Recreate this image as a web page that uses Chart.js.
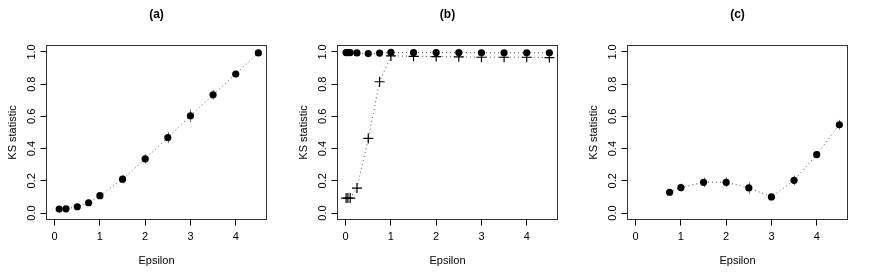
<!DOCTYPE html>
<html>
<head>
<meta charset="utf-8">
<script src="https://cdn.jsdelivr.net/npm/chart.js@4.4.1/dist/chart.umd.min.js"></script>
<style>
  body { margin: 0; background: #fff; width: 872px; height: 279px; position: relative; overflow: hidden; }
  canvas { position: absolute; top: 0; }
</style>
</head>
<body>
<canvas id="panelA" width="290" height="279" style="left:0px"></canvas>
<canvas id="panelB" width="290" height="279" style="left:291px"></canvas>
<canvas id="panelC" width="290" height="279" style="left:581px"></canvas>
<script>
// panel (a)
const epsA = [0.1, 0.25, 0.5, 0.75, 1, 1.5, 2, 2.5, 3, 3.5, 4, 4.5];
const ksA  = [0.025, 0.026, 0.039, 0.064, 0.108, 0.210, 0.336, 0.469, 0.604, 0.734, 0.863, 0.994];
const errA = [0.004, 0.004, 0.008, 0.02, 0.02, 0.025, 0.03, 0.035, 0.04, 0.03, 0.02, 0.01];

// panel (b): two series
const epsB     = [0.01, 0.05, 0.1, 0.25, 0.5, 0.75, 1, 1.5, 2, 2.5, 3, 3.5, 4, 4.5];
const ksBdot   = [0.996, 0.996, 0.996, 0.994, 0.990, 0.993, 0.997, 0.996, 0.996, 0.996, 0.995, 0.995, 0.995, 0.995];
const ksBcross = [0.093, 0.093, 0.093, 0.155, 0.463, 0.815, 0.975, 0.973, 0.971, 0.970, 0.967, 0.967, 0.967, 0.965];

// panel (c)
const epsC = [0.75, 1, 1.5, 2, 2.5, 3, 3.5, 4, 4.5];
const ksC  = [0.129, 0.158, 0.191, 0.191, 0.156, 0.100, 0.203, 0.363, 0.548];
const errC = [0.02, 0.025, 0.03, 0.03, 0.035, 0.01, 0.03, 0.02, 0.03];

const xTicks = [0, 1, 2, 3, 4];
const yTicks = [0, 0.2, 0.4, 0.6, 0.8, 1.0];
const yTickLabels = ['0.0', '0.2', '0.4', '0.6', '0.8', '1.0'];

const FONT = '"Liberation Sans", Arial, Helvetica, sans-serif';
Chart.defaults.font.family = FONT;
Chart.defaults.font.size = 11;
Chart.defaults.color = '#000';

const pts = (xs, ys) => xs.map((x, i) => ({ x: x, y: ys[i] }));

// R-style frame: box, rotated y labels, panel title, error bars
const rFrame = {
  id: 'rFrame',
  beforeDatasetsDraw(chart) {
    const ctx = chart.ctx, xs = chart.scales.x, ys = chart.scales.y;
    ctx.save();
    ctx.strokeStyle = '#777';
    ctx.lineWidth = 1;
    chart.data.datasets.forEach(ds => {
      if (!ds.err) return;
      ds.data.forEach((p, i) => {
        const px = Math.round(xs.getPixelForValue(p.x)) + 0.5;
        ctx.beginPath();
        ctx.moveTo(px, ys.getPixelForValue(p.y - ds.err[i]));
        ctx.lineTo(px, ys.getPixelForValue(p.y + ds.err[i]));
        ctx.stroke();
      });
    });
    ctx.restore();
  },
  afterDraw(chart, args, opts) {
    const ctx = chart.ctx, a = chart.chartArea, ys = chart.scales.y;
    ctx.save();
    ctx.strokeStyle = '#333';
    ctx.lineWidth = 1;
    ctx.strokeRect(a.left, a.top, a.right - a.left, a.bottom - a.top);

    ctx.fillStyle = '#000';
    ctx.font = '11px ' + FONT;
    ctx.textAlign = 'center';
    ctx.textBaseline = 'middle';
    yTicks.forEach((v, i) => {
      ctx.save();
      ctx.translate(32, ys.getPixelForValue(v));
      ctx.rotate(-Math.PI / 2);
      ctx.fillText(yTickLabels[i], 0, 0);
      ctx.restore();
    });

    ctx.font = 'bold 12px ' + FONT;
    ctx.fillText(opts.title, (a.left + a.right) / 2, 14.5);
    ctx.restore();
  }
};

function makePanel(id, title, datasets) {
  return new Chart(document.getElementById(id), {
    type: 'scatter',
    data: { datasets: datasets },
    options: {
      responsive: false,
      animation: false,
      layout: { padding: { top: 45.5, right: 23.5, left: 0, bottom: 0 } },
      plugins: {
        legend: { display: false },
        tooltip: { enabled: false },
        rFrame: { title: title }
      },
      scales: {
        x: {
          type: 'linear',
          min: -0.18,
          max: 4.68,
          afterBuildTicks: s => { s.ticks = xTicks.map(v => ({ value: v })); },
          afterFit: s => { s.height = 59.5; },
          border: { display: false },
          grid: { drawOnChartArea: false, tickLength: 6, color: '#000', lineWidth: 1 },
          ticks: { padding: 5, font: { size: 11 }, color: '#000', maxRotation: 0 },
          title: { display: true, text: 'Epsilon', font: { size: 11 }, color: '#000', padding: { top: 0, bottom: 11.5 } }
        },
        y: {
          type: 'linear',
          min: -0.04,
          max: 1.04,
          afterBuildTicks: s => { s.ticks = yTicks.map(v => ({ value: v })); },
          afterFit: s => { s.width = 46.5; },
          border: { display: false },
          grid: { drawOnChartArea: false, tickLength: 6, color: '#000', lineWidth: 1 },
          ticks: { display: false },
          title: { display: true, text: 'KS statistic', font: { size: 11 }, color: '#000', padding: { top: 6, bottom: 0 } }
        }
      }
    },
    plugins: [rFrame]
  });
}

const lineStyle = {
  showLine: true,
  borderColor: '#555',
  borderWidth: 1,
  borderDash: [1, 3]
};

const dotStyle = Object.assign({}, lineStyle, {
  pointRadius: 3.6,
  pointBackgroundColor: '#000',
  pointBorderColor: '#000',
  pointBorderWidth: 0
});

const crossStyle = Object.assign({}, lineStyle, {
  pointStyle: 'cross',
  pointRadius: 5,
  pointBorderColor: '#000',
  pointBorderWidth: 1.2
});

makePanel('panelA', '(a)', [
  Object.assign({ data: pts(epsA, ksA), err: errA }, dotStyle)
]);

makePanel('panelB', '(b)', [
  Object.assign({ data: pts(epsB, ksBcross) }, crossStyle),
  Object.assign({ data: pts(epsB, ksBdot) }, dotStyle)
]);

makePanel('panelC', '(c)', [
  Object.assign({ data: pts(epsC, ksC), err: errC }, dotStyle)
]);
</script>
</body>
</html>
